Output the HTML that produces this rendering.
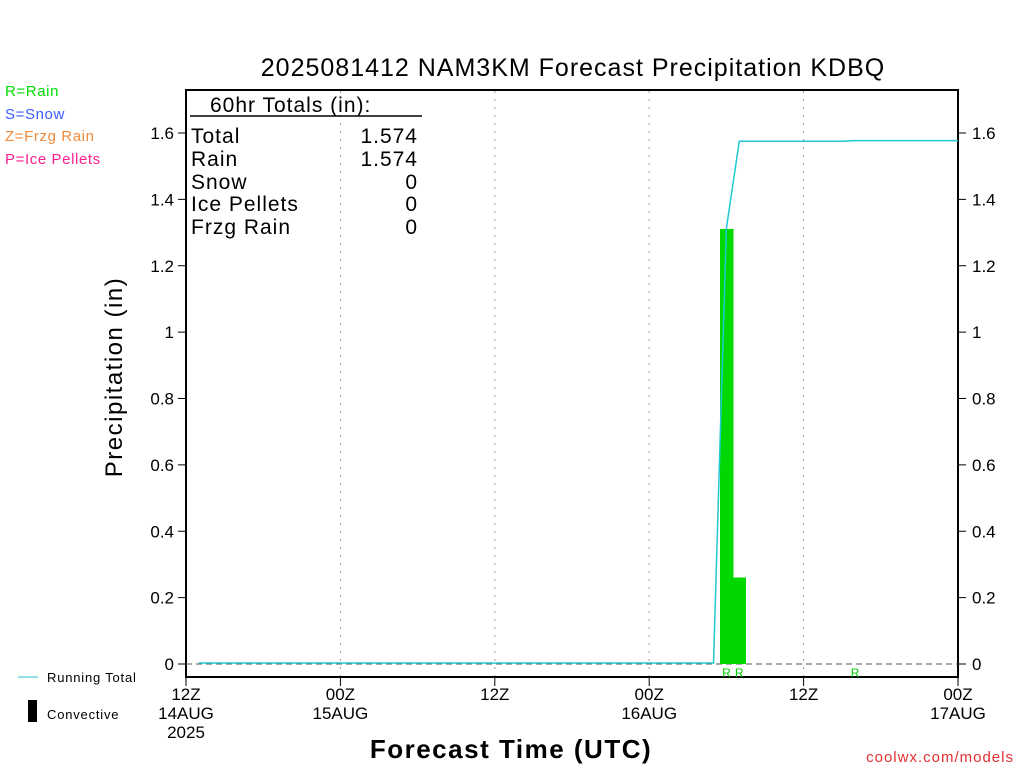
<!DOCTYPE html>
<html><head><meta charset="utf-8"><style>
body{margin:0;background:#fff;}
svg{display:block;font-family:"Liberation Sans","DejaVu Sans",sans-serif;}
</style></head><body>
<svg id="chart" width="1024" height="768" viewBox="0 0 1024 768">
<text x="573" y="76" font-size="25" text-anchor="middle" letter-spacing="1">2025081412 NAM3KM Forecast Precipitation KDBQ</text>
<g font-size="15" letter-spacing="0.6">
<text x="5" y="96" fill="#00dd00">R=Rain</text>
<text x="5" y="119" fill="#3a5cff">S=Snow</text>
<text x="5" y="141" fill="#f08a3c">Z=Frzg Rain</text>
<text x="5" y="164" fill="#ff2090">P=Ice Pellets</text>
</g>
<rect x="186" y="90" width="772" height="587" fill="none" stroke="#000" stroke-width="2"/>
<g id="grid"></g><g id="yticks"></g><g id="xticks"></g><g id="bars"></g><g id="lines"></g>
<g font-size="21" letter-spacing="1">
<text x="210" y="112">60hr Totals (in):</text>
<line x1="190" y1="116" x2="422" y2="116" stroke="#000" stroke-width="1.5"/>
<text x="191" y="143">Total</text><text x="418" y="143" text-anchor="end">1.574</text>
<text x="191" y="166">Rain</text><text x="418" y="166" text-anchor="end">1.574</text>
<text x="191" y="189">Snow</text><text x="418" y="189" text-anchor="end">0</text>
<text x="191" y="211">Ice Pellets</text><text x="418" y="211" text-anchor="end">0</text>
<text x="191" y="234">Frzg Rain</text><text x="418" y="234" text-anchor="end">0</text>
</g>
<text transform="translate(122,377) rotate(-90)" font-size="24" text-anchor="middle" letter-spacing="1.5">Precipitation (in)</text>
<text x="511" y="758" font-size="26" text-anchor="middle" letter-spacing="1.5" font-weight="600">Forecast Time (UTC)</text>
<line x1="18" y1="677" x2="38" y2="677" stroke="#20c0c8" stroke-width="1"/>
<text x="47" y="682" font-size="13" letter-spacing="0.8">Running Total</text>
<rect x="28" y="700" width="9" height="22" fill="#000"/>
<text x="47" y="719" font-size="13" letter-spacing="0.8">Convective</text>
<text x="1014" y="762" font-size="15" fill="#e03030" text-anchor="end" letter-spacing="1">coolwx.com/models</text>
</svg>
<script>
const xTickHours=[0,12,24,36,48,60];
const xTickLabels=[["12Z","14AUG","2025"],["00Z","15AUG"],["12Z"],["00Z","16AUG"],["12Z"],["00Z","17AUG"]];
const yTicks=[0,0.2,0.4,0.6,0.8,1,1.2,1.4,1.6];
const yTickLabels=["0","0.2","0.4","0.6","0.8","1","1.2","1.4","1.6"];
const barHours=[42,43];
const barValues=[1.31,0.26];
const totalHours=[1,41,42,43,51,52,60];
const totalValues=[0,0,1.31,1.572,1.572,1.574,1.574];
const typeHours=[42,43,52];
const typeLabels=["R","R","R"];
const NS="http://www.w3.org/2000/svg";
const X0=186,X1=958,Y0=664,Y16=133;
const xs=h=>X0+(X1-X0)*h/60;
const ys=v=>Y0-(Y0-Y16)*v/1.6;
function mk(tag,attrs,parent){const e=document.createElementNS(NS,tag);for(const k in attrs)e.setAttribute(k,attrs[k]);document.getElementById(parent).appendChild(e);return e;}
xTickHours.forEach((h,i)=>{
 if(h>0&&h<60){const g=mk('line',{x1:xs(h),x2:xs(h),y1:91,y2:676,stroke:'#999','stroke-dasharray':'2,6'},'grid');
 
 }
 const t=mk('line',{x1:xs(h),x2:xs(h),y1:677,y2:686,stroke:'#000'},'xticks');
 
 
 xTickLabels[i].forEach((s,j)=>{const tx=mk('text',{x:xs(h),y:700+j*19,'font-size':17,'text-anchor':'middle'},'xticks');tx.textContent=s;
 
 });
});
yTicks.forEach((v,i)=>{
 [[X0-8,X0],[X1,X1+8]].forEach(([a,b],k)=>{const l=mk('line',{x1:a,x2:b,y1:ys(v),y2:ys(v),stroke:'#000'},'yticks');
 
 
 const t=mk('text',{x:k?X1+14:X0-12,y:ys(v)+6,'font-size':17,'text-anchor':k?'start':'end'},'yticks');t.textContent=yTickLabels[i];
 
 });
});
const z=mk('line',{x1:X0,x2:X1,y1:Y0,y2:Y0,stroke:'#555','stroke-dasharray':'6,4'},'grid');


barHours.forEach((h,i)=>{const b=mk('rect',{x:xs(h-0.5),y:ys(barValues[i]),width:xs(h+0.5)-xs(h-0.5)+0.5,height:Y0-ys(barValues[i]),fill:'#00d800','shape-rendering':'crispEdges'},'bars');
 
 });
typeHours.forEach((h,i)=>{const t=mk('text',{x:xs(h),y:677,'font-size':12,fill:'#00cc00','text-anchor':'middle'},'bars');t.textContent=typeLabels[i];
 
 });
const p=mk('polyline',{points:totalHours.map((h,i)=>xs(h)+','+(ys(totalValues[i])-1)).join(' '),fill:'none',stroke:'#20c8d0','stroke-width':1.5},'lines');


</script>
</body></html>
